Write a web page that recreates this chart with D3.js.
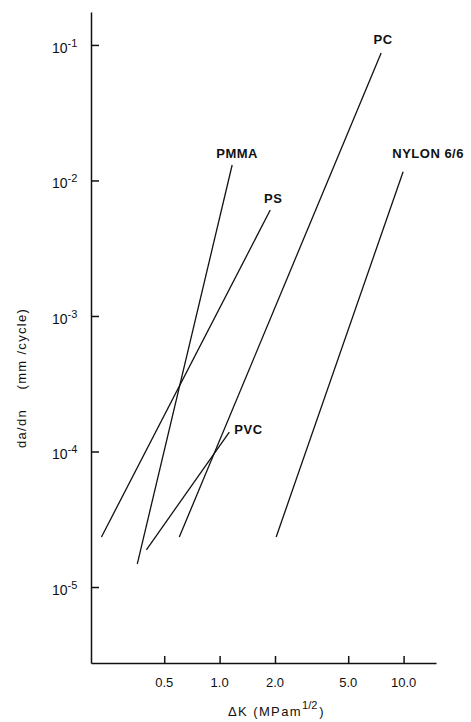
<!DOCTYPE html>
<html>
<head>
<meta charset="utf-8">
<script src="https://cdn.jsdelivr.net/npm/d3@7"></script>
<style>
  body { margin: 0; background: #fff; }
  svg { display: block; }
  .axis path, .axis line { stroke: #111; stroke-width: 1.5; }
  .tick-label, .axis-title { font-family: "Liberation Sans", Arial, sans-serif; fill: #111; }
  .series-label { font-family: "Liberation Sans", Arial, sans-serif; font-weight: bold; font-size: 13px; letter-spacing: 0.5px; fill: #111; }
  .series { fill: none; stroke: #111; stroke-width: 1.3; }
</style>
</head>
<body>
<div id="chart"></div>
<script>
// straight-line fits (end points)
const materials = ["PMMA", "PS", "PC", "PVC", "NYLON 6/6"];
const dKLow  = [0.357, 0.228, 0.604, 0.40, 2.03];
const dKHigh = [1.17, 1.885, 7.55, 1.129, 9.94];
const rateLow  = [1.48e-5, 2.34e-5, 2.34e-5, 1.88e-5, 2.34e-5];
const rateHigh = [1.30e-2, 6.05e-3, 8.73e-2, 1.39e-4, 1.16e-2];

const xTicks = [0.5, 1, 2, 5, 10];
const xTickLabels = ["0.5", "1.0", "2.0", "5.0", "10.0"];
const yTicks = [1e-1, 1e-2, 1e-3, 1e-4, 1e-5];
const yExponents = ["-1", "-2", "-3", "-4", "-5"];

const W = 471, H = 722;
const svg = d3.select("#chart").append("svg")
  .attr("width", W)
  .attr("height", H);

const x = d3.scaleLog().domain([0.2, 15]).range([91, 436]);
const y = d3.scaleLog().domain([2.75e-6, 0.175]).range([663, 12]);

// axes
svg.append("g")
  .attr("class", "axis")
  .attr("transform", "translate(91,0)")
  .call(d3.axisLeft(y).tickValues(yTicks).tickSize(-8).tickSizeOuter(0).tickFormat(""));

svg.append("g")
  .attr("class", "axis")
  .attr("transform", "translate(0,663)")
  .call(d3.axisBottom(x).tickValues(xTicks).tickSize(-7).tickSizeOuter(0).tickFormat(""));

// y tick labels, 10 with superscript exponent
yTicks.forEach((t, i) => {
  const txt = svg.append("text")
    .attr("class", "tick-label")
    .attr("x", 52)
    .attr("y", y(t) + 8)
    .style("font-size", "14px");
  txt.append("tspan").text("10");
  txt.append("tspan").attr("dy", -6).style("font-size", "11px").text(yExponents[i]);
});

// x tick labels
xTicks.forEach((t, i) => {
  svg.append("text")
    .attr("class", "tick-label")
    .attr("x", x(t))
    .attr("y", 687)
    .attr("text-anchor", "middle")
    .style("font-size", "13px")
    .text(xTickLabels[i]);
});

// axis titles
const xt = svg.append("text")
  .attr("class", "axis-title")
  .attr("x", 228)
  .attr("y", 716)
  .style("font-size", "13px")
  .style("letter-spacing", "1.4px");
xt.append("tspan").text("\u0394K  (MPam");
xt.append("tspan").attr("dy", -7).style("font-size", "11px").style("letter-spacing", "0px").text("1/2");
xt.append("tspan").attr("dy", 7).attr("dx", 2).text(")");

svg.append("text")
  .attr("class", "axis-title")
  .attr("transform", "translate(26,378) rotate(-90)")
  .attr("text-anchor", "middle")
  .style("font-size", "13px")
  .style("letter-spacing", "1.3px")
  .attr("xml:space", "preserve")
  .text("da/dn    (mm /cycle)");

// series lines
const rows = materials.map((m, i) => ({
  name: m,
  pts: [[dKLow[i], rateLow[i]], [dKHigh[i], rateHigh[i]]]
}));

const line = d3.line().x(d => x(d[0])).y(d => y(d[1]));

svg.append("g").selectAll("path")
  .data(rows)
  .join("path")
  .attr("class", "series")
  .attr("d", d => line(d.pts));

// labels placed off the upper end of each line
const labelOffset = {
  "PMMA": [5, -7, "middle"],
  "PS": [3, -7, "middle"],
  "PC": [2, -9, "middle"],
  "PVC": [5, 2, "start"],
  "NYLON 6/6": [25, -14, "middle"]
};

svg.append("g").selectAll("text")
  .data(rows)
  .join("text")
  .attr("class", "series-label")
  .attr("x", d => x(d.pts[1][0]) + labelOffset[d.name][0])
  .attr("y", d => y(d.pts[1][1]) + labelOffset[d.name][1])
  .attr("text-anchor", d => labelOffset[d.name][2])
  .text(d => d.name);
</script>
</body>
</html>
